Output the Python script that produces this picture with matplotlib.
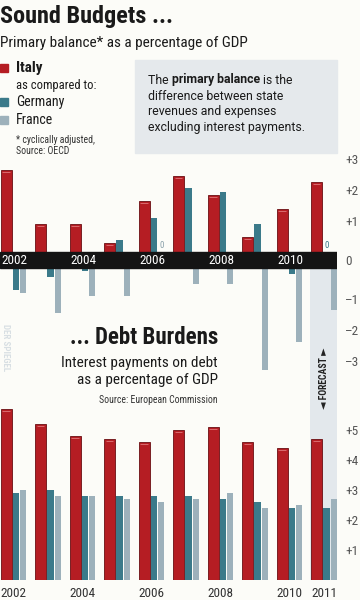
import matplotlib
matplotlib.use("Agg")
import matplotlib.pyplot as plt
from matplotlib import font_manager
from matplotlib.patches import Rectangle
import numpy as np

# ---- data ----
years = ["2002", "2003", "2004", "2005", "2006", "2007", "2008", "2009", "2010", "2011"]
top_labels = ["2002", "2004", "2006", "2008", "2010"]
bottom_labels = ["2002", "2004", "2006", "2008", "2010", "2011"]

# primary balance, % of GDP (cyclically adjusted)
bal_italy = [2.65, 0.9, 0.9, 0.3, 1.65, 2.45, 1.85, 0.5, 1.4, 2.25]
bal_germany = [-0.7, -0.3, -0.1, 0.4, 1.1, 2.05, 1.95, 0.9, -0.2, 0.0]
bal_france = [-0.8, -1.45, -0.9, -0.9, 0.0, -0.5, -0.5, -3.3, -2.4, -1.35]

# interest payments, % of GDP
int_italy = [5.7, 5.2, 4.8, 4.7, 4.6, 5.0, 5.1, 4.6, 4.4, 4.7]
int_germany = [2.9, 3.0, 2.8, 2.8, 2.8, 2.8, 2.7, 2.6, 2.4, 2.4]
int_france = [3.0, 2.8, 2.8, 2.7, 2.6, 2.7, 2.9, 2.4, 2.5, 2.7]

bal_ticks = [3, 2, 1, 0, -1, -2, -3]
int_ticks = [1, 2, 3, 4, 5]

# ---- style ----
RED = "#b51d23"
RED_EDGE = "#6a0e12"
RED_HI = "#e0777a"
TEAL = "#3b7a8a"
GREY = "#9db1bb"
BG = "#fcfcf8"
BOX = "#e5e9ec"
FORE = "#e3e8ec"
TXT = "#1a1a1a"
TICK = "#555555"

names = {f.name for f in font_manager.fontManager.ttflist}
FONT = "Roboto Condensed" if "Roboto Condensed" in names else "Liberation Sans"
plt.rcParams["font.family"] = [FONT, "DejaVu Sans"]
WIDE = ["Roboto", "DejaVu Sans"]

W, H = 360, 600
fig = plt.figure(figsize=(3.6, 6.0), dpi=100, facecolor=BG)


def fx(px):
    return px / W


def fy(py):
    return 1 - py / H


x = np.arange(len(years))
off = [0.0, 0.357, 0.568]
wid = [0.32, 0.185, 0.185]
unit_px = 34.5
xl = (-0.5 / unit_px, (337 - 0.5) / unit_px)

# ---------- top chart ----------
g = 8 / 31  # half height of the black zero band
top_px, bot_px, zero_px = 155, 400, 260
ax = fig.add_axes([0, fy(bot_px), fx(337), (bot_px - top_px) / H])
ax.set_facecolor("none")
ax.set_xlim(*xl)
ax.set_ylim(-(bot_px - zero_px) / 31, (zero_px - top_px) / 31)

ax.add_patch(Rectangle((9 - 0.03, ax.get_ylim()[0]), xl[1] - 9 + 0.06,
                       -g - ax.get_ylim()[0], color=FORE, lw=0, zorder=0))

for vals, o, w, c in [(bal_italy, off[0], wid[0], RED),
                      (bal_germany, off[1], wid[1], TEAL),
                      (bal_france, off[2], wid[2], GREY)]:
    vals = np.array(vals)
    bottoms = np.where(vals >= 0, g, -g)
    ec = RED_EDGE if c == RED else c
    ax.bar(x + o, vals, width=w, bottom=bottoms, align="edge", color=c,
           edgecolor=ec, linewidth=0.6 if c == RED else 0, zorder=2)
    if c == RED:
        tops = bottoms + vals - 0.07
        ax.hlines(tops, x + o + 0.05, x + o + w - 0.05, color=RED_HI, lw=0.6, zorder=2.5)
    for xi, v in zip(x, vals):
        if v == 0:
            ax.text(xi + o + w / 2, g + 0.08, "0", ha="center", va="bottom",
                    fontsize=6.5, color=c if c != GREY else "#8aa0aa", zorder=3)

ax.axhspan(-g, g, color="#141414", zorder=3)
for lab in top_labels:
    i = years.index(lab)
    ax.text(i + 0.4, 0, lab, ha="center", va="center", color="white",
            fontsize=9.5, zorder=4)

tick_pos = [np.sign(t) * (g + abs(t)) if t != 0 else 0 for t in bal_ticks]
tick_txt = [("+%d" % t) if t > 0 else ("\u2013%d" % -t if t < 0 else "0") for t in bal_ticks]
ax.yaxis.tick_right()
ax.set_yticks(tick_pos, tick_txt)
ax.tick_params(axis="y", length=0, pad=6, labelsize=9.5, labelcolor=TICK)
ax.set_xticks([])
for s in ax.spines.values():
    s.set_visible(False)

# ---------- bottom chart ----------
bx = fig.add_axes([0, fy(580), fx(337), 180 / H])
bx.set_facecolor("none")
bx.set_xlim(*xl)
bx.set_ylim(0, 6.0)
bx.add_patch(Rectangle((9 - 0.03, 0), xl[1] - 9 + 0.06, 6.0,
                       color=FORE, lw=0, zorder=0))
for vals, o, w, c in [(int_italy, off[0], wid[0], RED),
                      (int_germany, off[1], wid[1], TEAL),
                      (int_france, off[2], wid[2], GREY)]:
    ec = RED_EDGE if c == RED else c
    bx.bar(x + o, vals, width=w, align="edge", color=c, edgecolor=ec,
           linewidth=0.6 if c == RED else 0, zorder=2)
    if c == RED:
        bx.hlines(np.array(vals) - 0.07, x + o + 0.05, x + o + w - 0.05,
                  color=RED_HI, lw=0.6, zorder=2.5)

bx.yaxis.tick_right()
bx.set_yticks(int_ticks, ["+%d" % t for t in int_ticks])
bx.tick_params(axis="y", length=0, pad=6, labelsize=9.5, labelcolor=TICK)
bx.set_xticks([years.index(l) + 0.38 for l in bottom_labels], bottom_labels)
bx.tick_params(axis="x", length=0, pad=5, labelsize=9.5, labelcolor="#333333")
for s in bx.spines.values():
    s.set_visible(False)

# ---------- titles and legend ----------
fig.text(fx(0), fy(16), "Sound Budgets ...", fontsize=17.5, fontweight="bold",
         color=TXT, ha="left", va="center")
fig.text(fx(0), fy(43), "Primary balance* as a percentage of GDP",
         fontsize=11, color=TXT, ha="left", va="center")

legend = [(68, RED, "Italy", "bold", 11),
          (102, TEAL, "Germany", "normal", 10),
          (120, GREY, "France", "normal", 10)]
for yy, c, lab, wt, fs in legend:
    fig.patches.append(Rectangle((fx(0), fy(yy + 4)), fx(8), 8 / H, color=c,
                                 transform=fig.transFigure, figure=fig))
    fig.text(fx(16), fy(yy), lab, fontsize=fs, fontweight=wt, color=TXT,
             ha="left", va="center")
fig.text(fx(16), fy(86), "as compared to:", fontsize=9, color=TXT,
         ha="left", va="center")
fig.text(fx(16), fy(140), "* cyclically adjusted,", fontsize=7, color="#333333",
         ha="left", va="center")
fig.text(fx(16), fy(151), "Source: OECD", fontsize=7, color="#333333",
         ha="left", va="center")

# info box
fig.patches.append(Rectangle((fx(135), fy(153)), fx(337 - 135), 93 / H,
                             color=BOX, transform=fig.transFigure, figure=fig,
                             zorder=0))
fig.canvas.draw()
r = fig.canvas.get_renderer()
xx = fx(148)
parts = [("The ", "normal"), ("primary balance", "bold"), (" is the", "normal")]
for s, wt in parts:
    t = fig.text(xx, fy(80), s, fontsize=8.8, fontweight=wt, color=TXT,
                 ha="left", va="center", family=WIDE)
    xx += t.get_window_extent(r).width / W
for yy, s in [(96, "difference between state"),
              (112, "revenues and expenses"),
              (128, "excluding interest payments.")]:
    fig.text(fx(148), fy(yy), s, fontsize=8.8, color=TXT, ha="left", va="center",
             family=WIDE)

fig.text(fx(218), fy(338), "... Debt Burdens", fontsize=16.5, fontweight="bold",
         color=TXT, ha="right", va="center")
fig.text(fx(218), fy(363), "Interest payments on debt", fontsize=11,
         color=TXT, ha="right", va="center")
fig.text(fx(218), fy(380), "as a percentage of GDP", fontsize=11,
         color=TXT, ha="right", va="center")
fig.text(fx(218), fy(400), "Source: European Commission", fontsize=7,
         color="#333333", ha="right", va="center")

fig.text(fx(324), fy(378), "\u25c4 FORECAST \u25ba", rotation=90, fontsize=7,
         fontweight="bold", color="#222222", ha="center", va="center")
fig.text(fx(5), fy(348), "DER SPIEGEL", rotation=270, fontsize=6.5,
         fontweight="bold", color="#d8dfe3", ha="center", va="center")

fig.savefig("out.png", dpi=100, facecolor=BG)
